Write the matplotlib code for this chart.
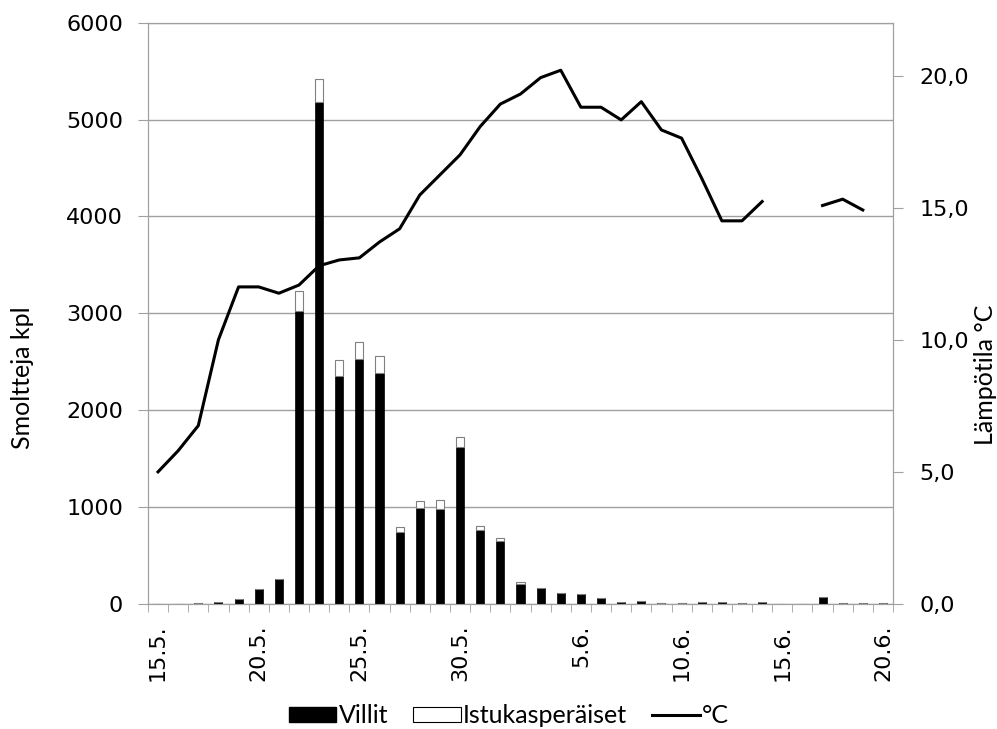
import numpy as np
import matplotlib
matplotlib.use("Agg")
import matplotlib.pyplot as plt
from matplotlib.patches import Patch
from matplotlib.lines import Line2D

plt.rcParams['font.family'] = ['DejaVu Sans']

# days 15.5. - 20.6.
n_days = 37
tick_idx = [0, 5, 10, 15, 21, 26, 31, 36]
tick_labels = ['15.5.', '20.5.', '25.5.', '30.5.', '5.6.', '10.6.', '15.6.', '20.6.']

villit = [0, 0, 10, 20, 55, 150, 258, 3025, 5185, 2357, 2526, 2381, 746, 988, 980, 1624, 764, 654,
          203, 162, 117, 106, 59, 21, 34, 10, 10, 20, 20, 10, 20, 0, 0, 69, 10, 10, 10]
istukas = [0, 0, 0, 0, 0, 0, 0, 210, 235, 162, 175, 176, 52, 75, 93, 103, 44, 31,
           21, 0, 0, 0, 0, 0, 0, 0, 0, 0, 0, 0, 0, 0, 0, 0, 0, 0, 0]
temp = [5.0, 5.8, 6.75, 10.0, 12.0, 12.0, 11.76, 12.07, 12.8, 13.02, 13.1, 13.7, 14.2, 15.48,
        16.24, 17.0, 18.07, 18.92, 19.3, 19.92, 20.2, 18.8, 18.8, 18.32, 19.01, 17.94, 17.63,
        16.11, 14.5, 14.5, 15.23, np.nan, np.nan, 15.08, 15.32, 14.91, np.nan]

x = np.arange(n_days)
grey = '#a0a0a0'
label_font = ['Lato', 'DejaVu Sans']

fig = plt.figure(figsize=(9.97, 7.29), dpi=100)
ax = fig.add_axes([0.1484, 0.1715, 0.7473, 0.7974])
ax2 = ax.twinx()

ax.bar(x, villit, width=0.4, color='black', edgecolor='black', linewidth=0.5, zorder=3)
ax.bar(x, istukas, width=0.4, bottom=villit, color='white', edgecolor='#808080',
       linewidth=0.8, zorder=3)
ax2.plot(x, temp, color='black', lw=2.2, zorder=4)

ax.set_xlim(-0.5, n_days - 0.5)
ax.set_ylim(0, 6000)
ax.set_yticks(range(0, 6001, 1000))
ax2.set_ylim(0, 22)
ax2.set_yticks([0, 5, 10, 15, 20])
ax2.set_yticklabels(['0,0', '5,0', '10,0', '15,0', '20,0'])

ax.yaxis.grid(True, color=grey, lw=1)
ax.set_axisbelow(True)

ax.set_xticks(tick_idx)
ax.set_xticklabels(tick_labels, rotation=90)
ax.set_xticks(np.arange(-0.5, n_days, 1), minor=True)
ax.tick_params(axis='x', which='major', length=0, pad=15, labelsize=16)
ax.tick_params(axis='x', which='minor', length=6, color=grey, direction='out')
ax.tick_params(axis='y', length=7, color=grey, labelsize=16, pad=11)
ax2.tick_params(axis='y', length=7, color=grey, labelsize=16, pad=12)

for a in (ax, ax2):
    for s in a.spines.values():
        s.set_color(grey)

ax.set_ylabel('Smoltteja kpl', fontsize=18, family=label_font)
ax.yaxis.label.set_va('center')
ax.yaxis.set_label_coords(-0.169, 0.39)
ax2.set_ylabel('Lämpötila °C', fontsize=18, family=label_font)
ax2.yaxis.label.set_va('center')
ax2.yaxis.set_label_coords(1.1235, 0.395)

handles = [Patch(facecolor='black', edgecolor='black'),
           Patch(facecolor='white', edgecolor='black', linewidth=0.8),
           Line2D([0], [0], color='black', lw=2.2)]
fig.legend(handles, ['Villit', 'Istukasperäiset', '°C'], loc='center',
           bbox_to_anchor=(0.5105, 0.018), ncol=3, frameon=False,
           prop={'family': label_font, 'size': 18},
           handlelength=1.9, handleheight=0.55, handletextpad=0.1, columnspacing=1.0)

fig.savefig('out.png', dpi=100)
